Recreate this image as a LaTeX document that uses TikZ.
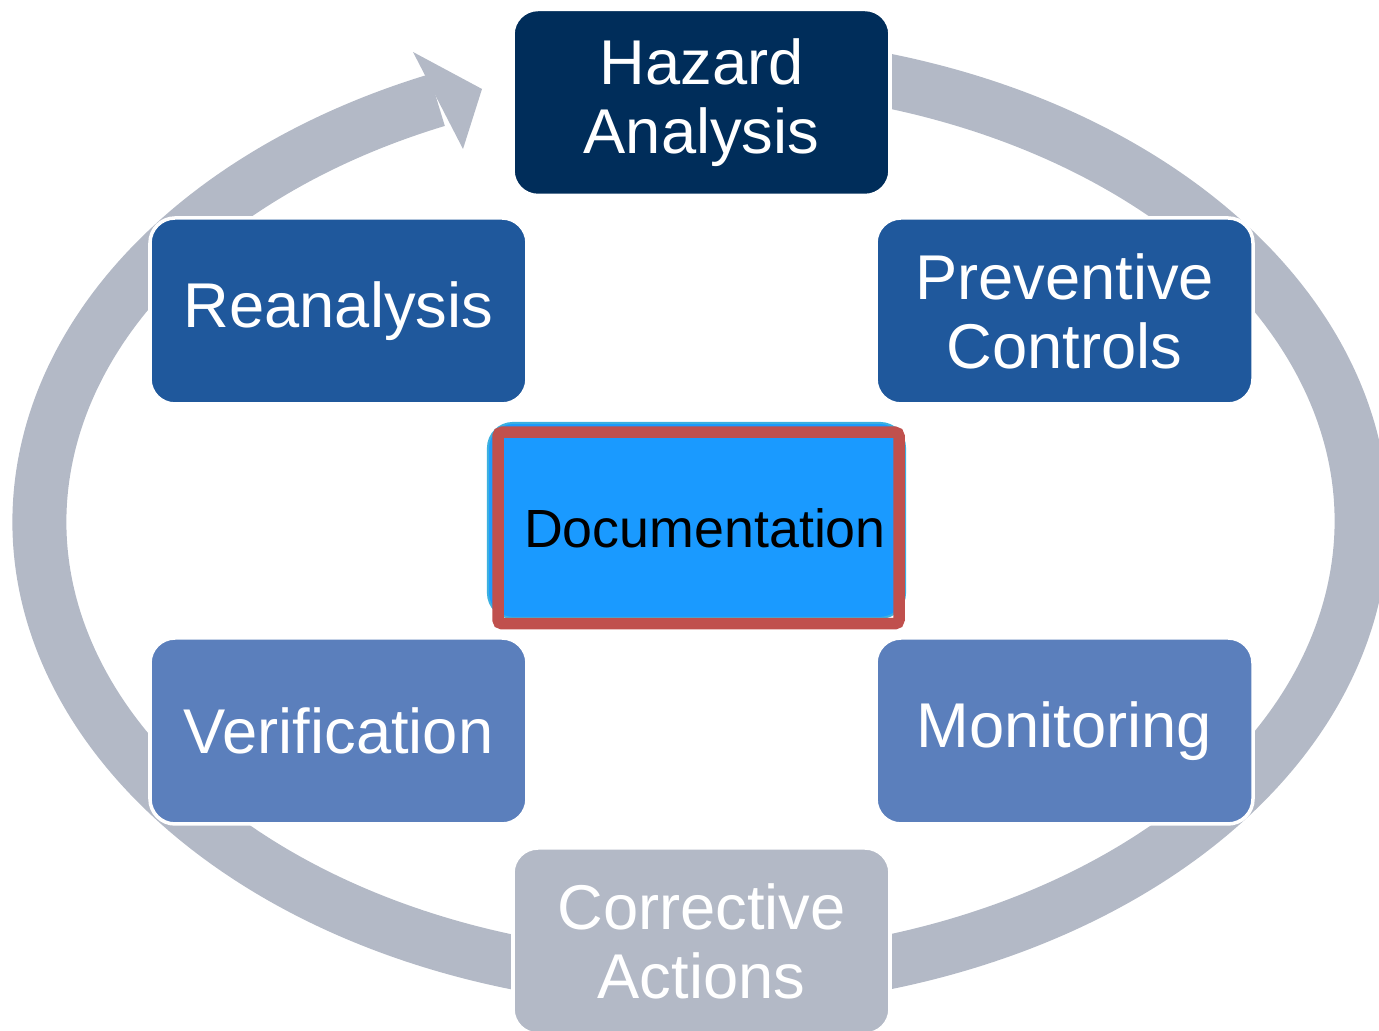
\documentclass[tikz,border=0pt]{standalone}
\usepackage{fontspec}
\setmainfont{Liberation Sans}
\usepackage{tikz}
\usetikzlibrary{arrows.meta, calc}
\usepackage{xcolor}

\definecolor{ringgray}{RGB}{179,185,198}
\definecolor{navy}{RGB}{0,45,90}
\definecolor{midblue}{RGB}{31,88,156}
\definecolor{softblue}{RGB}{91,127,188}
\definecolor{docblue}{RGB}{26,154,255}
\definecolor{docedge}{RGB}{60,176,224}
\definecolor{framered}{RGB}{192,80,77}

\begin{document}
\begin{tikzpicture}[
        stagebox/.style={rounded corners=0.25cm, draw=white, line width=1pt,
            minimum width=3.77cm, minimum height=1.86cm, inner sep=0pt,
            text=white, align=center, font=\fontsize{18}{19.6}\selectfont}
    ]
        \useasboundingbox (0,0) rectangle (13.79,10.31);

        % Cycle ring (clockwise, ends in an arrow at the top)
        \draw[ringgray, line width=0.54cm] ($(7.005,5.095)+(80:6.61cm and 4.595cm)$)
            arc[start angle=80, end angle=-246.5, x radius=6.61, y radius=4.595];
        \fill[ringgray] (4.13,9.79) -- (4.82,9.42) -- (4.63,8.82) -- cycle;

        % Steps of the plan
        \node[stagebox, fill=navy] (hazard) at (7.015,9.285) {Hazard\\Analysis};
        \node[stagebox, fill=midblue] (reanalysis) at (3.385,7.20) {Reanalysis};
        \node[stagebox, fill=midblue] (preventive) at (10.645,7.20) {Preventive\\Controls};
        \node[stagebox, fill=softblue] (verification) at (3.385,3.00) {Verification};
        \node[stagebox, fill=softblue] (monitoring) at (10.645,3.00) {Monitoring};
        \node[stagebox, fill=ringgray] (corrective) at (7.015,0.90) {Corrective\\Actions};

        % Documentation in the middle, framed in red
        \node[rounded corners=0.25cm, fill=docblue, draw=docedge, line width=0.6pt,
            minimum width=4.17cm, minimum height=1.95cm] (docbox) at (6.965,5.105) {};
        \node[draw=framered, line width=0.115cm, rounded corners=0.04cm,
            minimum width=4.01cm, minimum height=1.915cm, inner sep=0pt,
            font=\fontsize{15.3}{17}\selectfont] (docu) at (6.985,5.03)
            {\hspace{0.13cm}Documentation};

    \end{tikzpicture}
\end{document}
